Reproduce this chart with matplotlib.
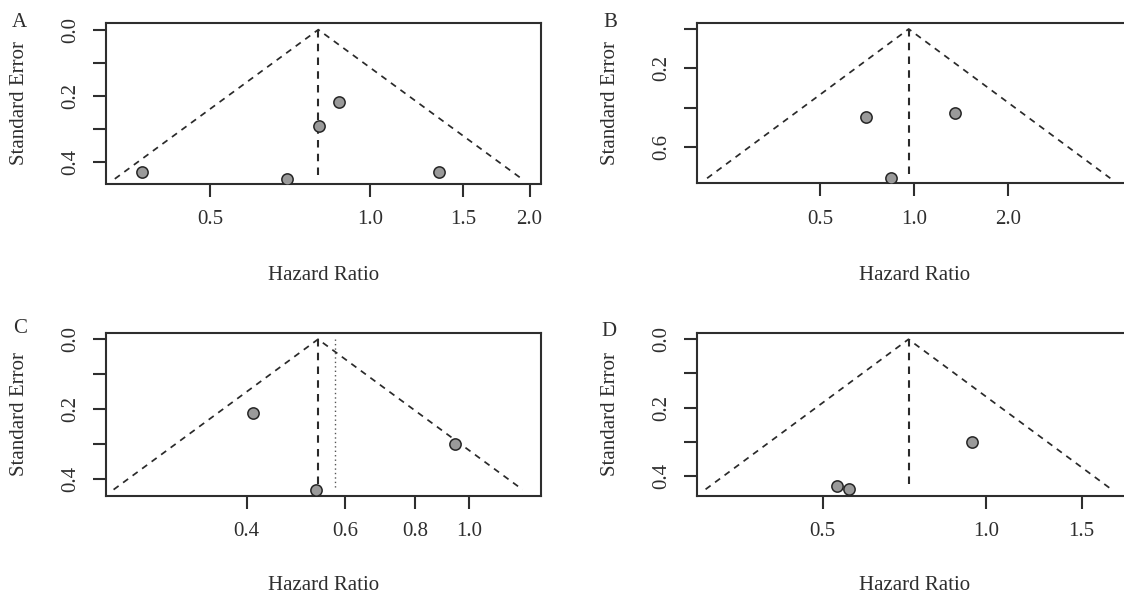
import matplotlib
matplotlib.use("Agg")
import matplotlib.pyplot as plt
import numpy as np
from matplotlib.ticker import FixedLocator, FixedFormatter, NullLocator

plt.rcParams['font.family'] = ['Liberation Serif', 'DejaVu Serif']

W, H = 1124, 594
DPI = 100
TXT = '#2e2e2e'

# ---- data ----
a_hr = [0.371, 0.876, 0.802, 0.698, 1.350]
a_se = [0.431, 0.218, 0.290, 0.451, 0.431]
a_est = 0.799

b_hr = [0.698, 1.348, 0.842]
b_se = [0.449, 0.429, 0.759]
b_est = 0.959

c_hr = [0.410, 0.943, 0.532]
c_se = [0.210, 0.300, 0.430]
c_est = 0.537
c_ref = 0.577

d_hr = [0.532, 0.559, 0.941]
d_se = [0.429, 0.439, 0.2995]
d_est = 0.720

a_xticks = [0.5, 1.0, 1.5, 2.0]
a_xlabels = ['0.5', '1.0', '1.5', '2.0']
b_xticks = [0.5, 1.0, 2.0]
b_xlabels = ['0.5', '1.0', '2.0']
c_xticks = [0.4, 0.6, 0.8, 1.0]
c_xlabels = ['0.4', '0.6', '0.8', '1.0']
d_xticks = [0.5, 1.0, 1.5]
d_xlabels = ['0.5', '1.0', '1.5']

a_yticks = [0.0, 0.1, 0.2, 0.3, 0.4]
a_ylabels = ['0.0', '', '0.2', '', '0.4']
b_yticks = [0.0, 0.2, 0.4, 0.6]
b_ylabels = ['', '0.2', '', '0.6']
c_yticks = a_yticks
c_ylabels = a_ylabels
d_yticks = a_yticks
d_ylabels = a_ylabels

fig = plt.figure(figsize=(W / DPI, H / DPI), dpi=DPI)
FS = 15


def px_axes(left, top, right, bottom):
    return fig.add_axes([left / W, 1 - bottom / H, (right - left) / W, (bottom - top) / H])


def funnel(ax, hr, se, est, xlim, ylim, xticks, xlabels, yticks, ylabels, ref=None):
    ax.set_xscale('log')
    semax = max(se)
    sev = np.array([semax, 0.0, semax])
    xs = est * np.exp(np.array([-1.96, 0.0, 1.96]) * sev)
    ax.plot(xs, sev, color='#2a2a2a', lw=1.25, ls=(0, (3.6, 3.2)), zorder=2)
    ax.plot([est, est], [0, semax], color='#2a2a2a', lw=1.5, ls=(0, (3.6, 3.0)), zorder=2)
    if ref is not None:
        ax.plot([ref, ref], [0, semax], color='#555555', lw=1.0, ls=(0, (1, 2.2)), zorder=2)
    ax.scatter(hr, se, s=66, facecolor='#9a9a9a', edgecolor='#262626', linewidth=1.1, zorder=3)
    ax.set_xlim(*xlim)
    ax.set_ylim(*ylim)
    ax.xaxis.set_major_locator(FixedLocator(xticks))
    ax.xaxis.set_major_formatter(FixedFormatter(xlabels))
    ax.xaxis.set_minor_locator(NullLocator())
    ax.yaxis.set_major_locator(FixedLocator(yticks))
    ax.yaxis.set_major_formatter(FixedFormatter(ylabels))
    ax.yaxis.set_minor_locator(NullLocator())
    for s in ax.spines.values():
        s.set_color('#2e2e2e')
        s.set_linewidth(1.5)
    ax.tick_params(axis='both', which='major', length=9.5, width=1.5, color='#2e2e2e',
                   labelsize=FS, labelcolor=TXT)
    ax.tick_params(axis='x', pad=9.5)
    ax.tick_params(axis='y', pad=9.0)
    for lab in ax.get_yticklabels():
        lab.set_rotation(90)
        lab.set_va('center')


axA = px_axes(105.7, 22.7, 541.0, 183.5)
funnel(axA, a_hr, a_se, a_est, (0.3173, 2.102), (0.465, -0.021),
       a_xticks, a_xlabels, a_yticks, a_ylabels)

axB = px_axes(696.7, 22.7, 1131.7, 183.3)
funnel(axB, b_hr, b_se, b_est, (0.2007, 4.97), (0.7845, -0.032),
       b_xticks, b_xlabels, b_yticks, b_ylabels)

axC = px_axes(105.7, 333.3, 541.0, 496.0)
funnel(axC, c_hr, c_se, c_est, (0.2238, 1.346), (0.4482, -0.017),
       c_xticks, c_xlabels, c_yticks, c_ylabels, ref=c_ref)

axD = px_axes(696.7, 333.3, 1131.7, 496.0)
funnel(axD, d_hr, d_se, d_est, (0.2933, 1.855), (0.4585, -0.0175),
       d_xticks, d_xlabels, d_yticks, d_ylabels)


def ftext(x, y, s, **kw):
    fig.text(x / W, 1 - y / H, s, ha='center', va='center', color=TXT, fontsize=FS, **kw)


for lx, ly, lab in [(19.7, 22.7, 'A'), (610.4, 22.7, 'B'), (19.7, 328.7, 'C'), (608.6, 332.0, 'D')]:
    ftext(lx, ly, lab)

for cx, cy in [(19.7, 103.0), (610.4, 103.0), (19.7, 414.5), (610.4, 414.5)]:
    ftext(cx, cy, 'Standard Error', rotation=90)

for cx, cy in [(323.3, 275.0), (914.2, 275.0), (323.3, 585.3), (914.2, 585.3)]:
    ftext(cx, cy, 'Hazard Ratio')

fig.savefig('out.png', dpi=DPI)
